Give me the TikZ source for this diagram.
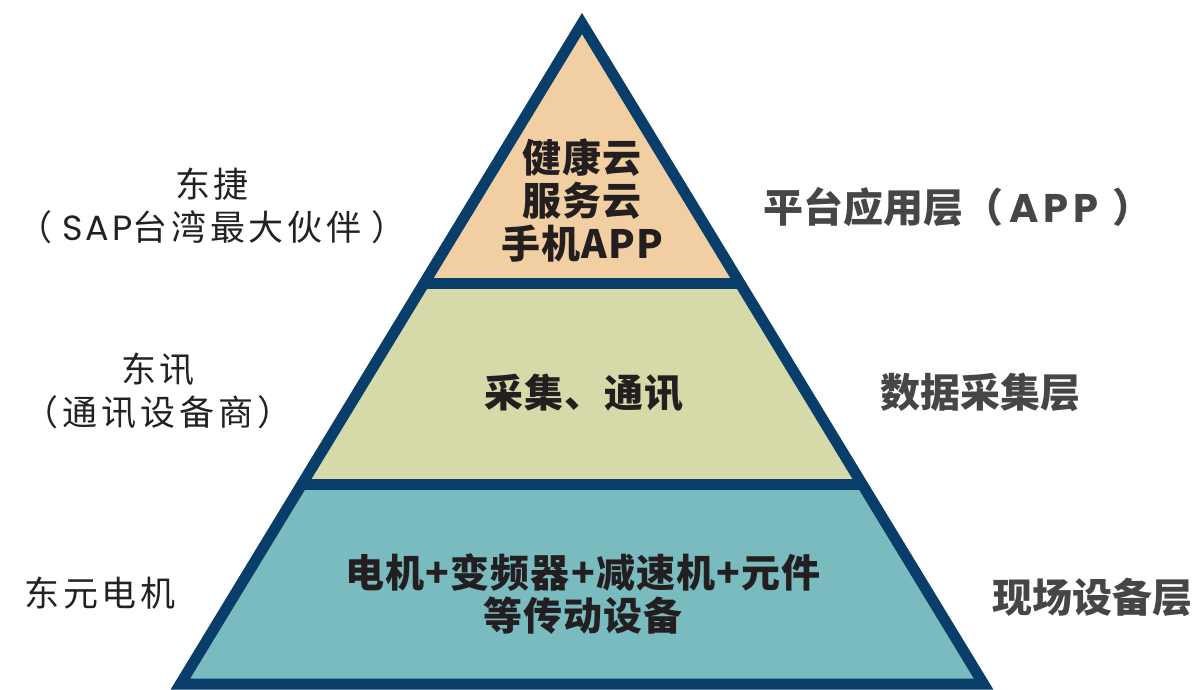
\documentclass[tikz,border=0pt]{standalone}
\usepackage{fontspec}
\newfontfamily\cjk{Noto Sans CJK SC}
\newfontfamily\geo{Poppins}
\usetikzlibrary{calc}
\definecolor{edge}{RGB}{10,62,106}
\definecolor{peach}{RGB}{242,207,162}
\definecolor{olive}{RGB}{213,218,168}
\definecolor{teal}{RGB}{122,187,192}
\definecolor{ink}{RGB}{35,31,32}
\definecolor{rgray}{RGB}{70,70,70}
\definecolor{lgray}{RGB}{34,34,34}
\tikzset{
  inner/.style={inner sep=0pt, align=center, text=ink, font={\cjk\bfseries\fontsize{39}{43}\selectfont\addfontfeature{LetterSpace=3}}},
  rlabel/.style={inner sep=0pt, align=center, text=rgray, font={\cjk\bfseries\fontsize{40}{44}\selectfont}},
  llabel/.style={inner sep=0pt, align=center, text=lgray, font={\cjk\fontsize{35}{43}\selectfont\addfontfeature{LetterSpace=11}}},
  border/.style={draw=edge, line width=11pt, line join=miter}
}
\begin{document}
\begin{tikzpicture}[x=1pt,y=-1pt]
\useasboundingbox (0,0) rectangle (1203,690);
\coordinate (A) at (582,23.5);
\coordinate (BL) at (180.4,684);
\coordinate (BR) at (983.6,684);
\coordinate (L1) at ($(A)!0.3929!(BL)$);
\coordinate (R1) at ($(A)!0.3929!(BR)$);
\coordinate (L2) at ($(A)!0.6972!(BL)$);
\coordinate (R2) at ($(A)!0.6972!(BR)$);
\fill[peach] (A) -- (L1) -- (R1) -- cycle;
\fill[olive] (L1) -- (L2) -- (R2) -- (R1) -- cycle;
\fill[teal] (L2) -- (BL) -- (BR) -- (R2) -- cycle;
\draw[border] (L1) -- (R1);
\draw[border] (L2) -- (R2);
\draw[border] (A) -- (BL) -- (BR) -- cycle;
% inner texts
\node[inner] (t1) at (582,200) {健康云\\服务云\\手机APP};
\node[inner] (t2) at (584,393) {采集、通讯};
\node[inner] (t3) at (583,594) {电机+变频器+减速机+元件\\等传动设备};
% right labels
\node[rlabel] (r1) at (958,207) {平台应用层（\hspace{6pt}{\geo\bfseries\addfontfeature{LetterSpace=12}APP}\hspace{14pt}）};
\node[rlabel] (r2) at (980,392) {数据采集层};
\node[rlabel] (r3) at (1092,597) {现场设备层};
% left labels
\node[llabel] (l1) at (212,206) {东捷\\（\hspace{10pt}{\geo\addfontfeature{LetterSpace=8}SAP}台湾最大伙伴\hspace{10pt}）};
\node[llabel] (l2) at (158,391) {东讯\\（\hspace{4pt}通讯设备商\hspace{4pt}）};
\node[llabel] (l3) at (100,593) {东元电机};
\end{tikzpicture}
\end{document}
